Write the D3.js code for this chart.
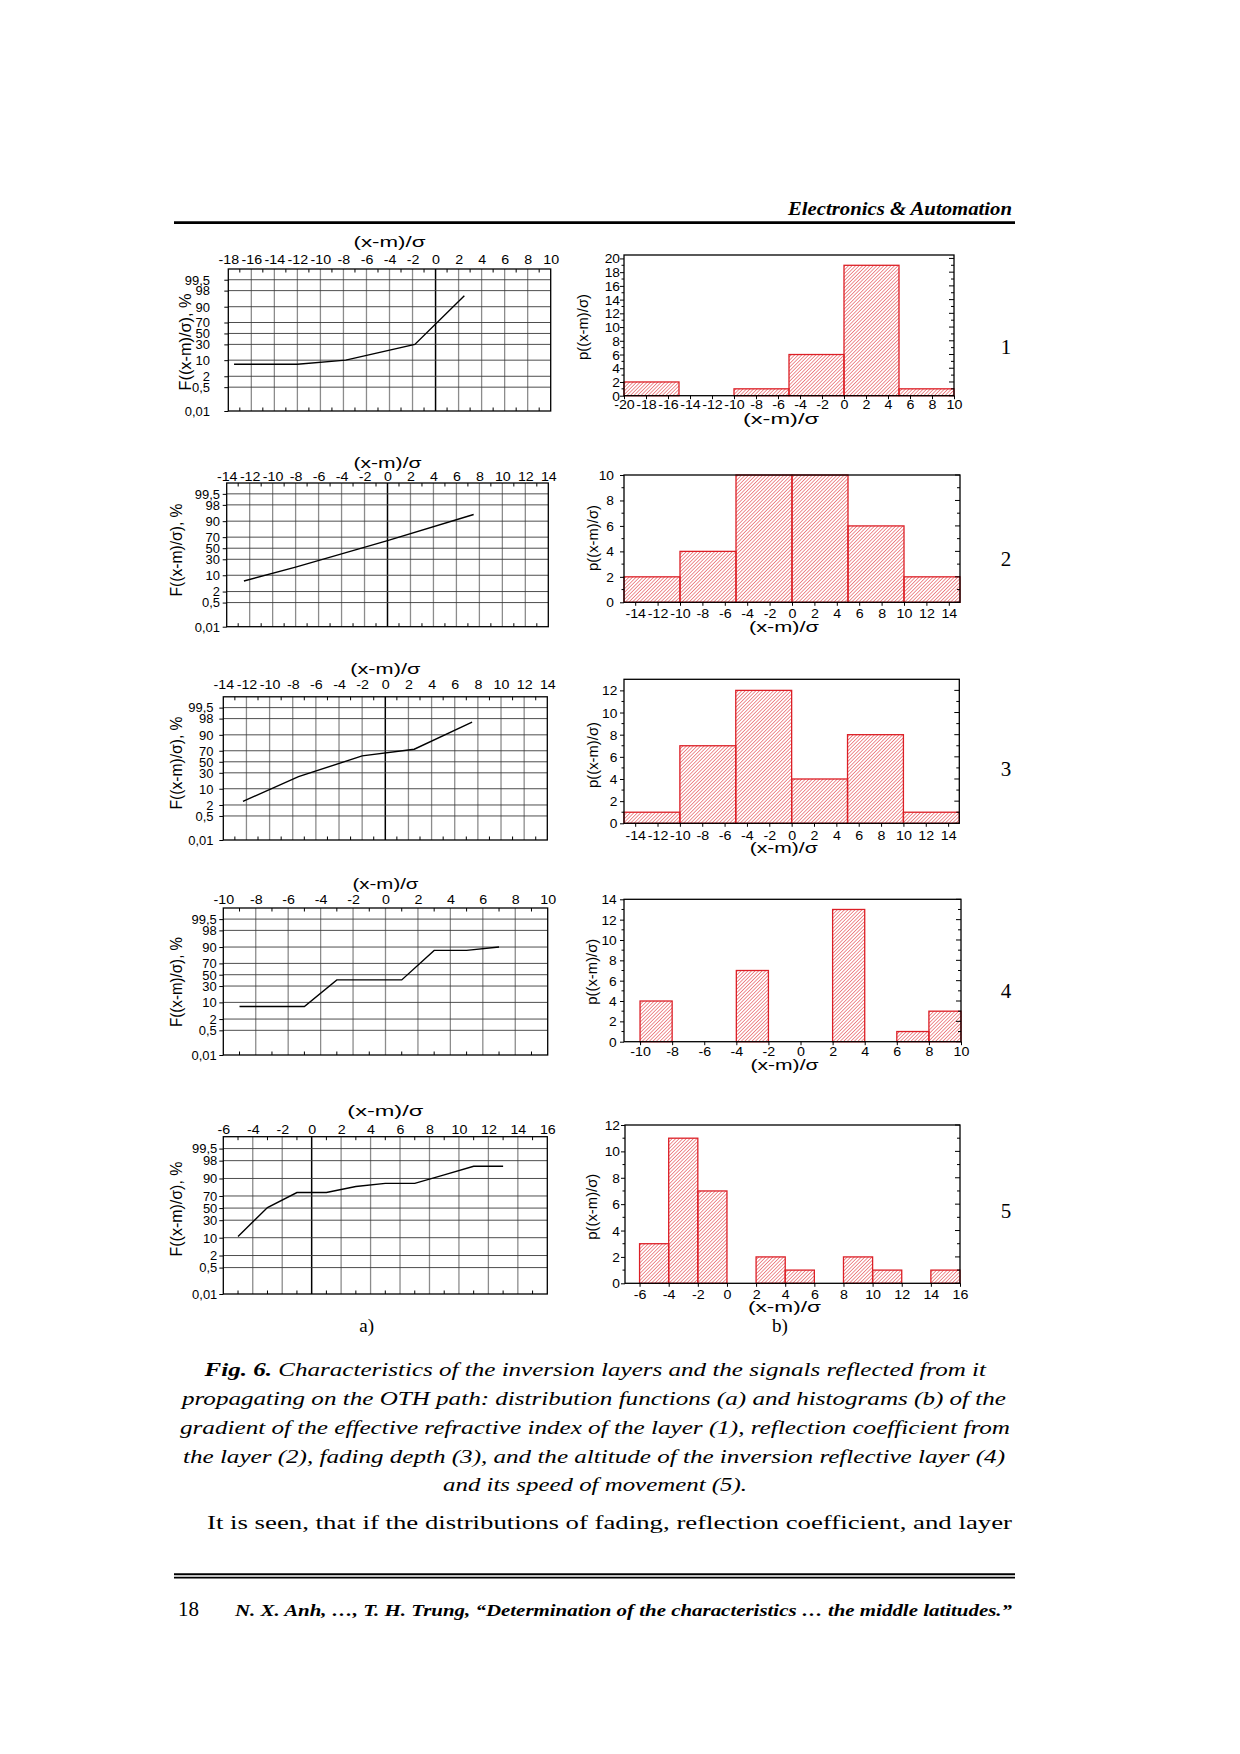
<!DOCTYPE html>
<html><head><meta charset="utf-8">
<script src="https://cdn.jsdelivr.net/npm/d3@7"></script>
<style>
html,body{margin:0;padding:0;background:#fff;}
svg{display:block;}
</style></head>
<body>
<script>
// ---------------- DATA ----------------
// distribution functions (a): x=(x-m)/sigma, F in %
const fX1 = [-17.5, -12, -7.8, -1.8, 2.5];
const fP1 = [7, 7, 10, 30, 96.5];
const fX2 = [-12.5, -8, 0, 7.5];
const fP2 = [6, 18.5, 64, 94.5];
const fX3 = [-12.3, -7.5, -2, 2.5, 7.5];
const fP3 = [3, 24, 61, 72.5, 97];
const fX4 = [-9, -5, -3, 1, 3, 5, 7];
const fP4 = [7, 7, 40.5, 40.5, 87, 87, 90];
const fX5 = [-5, -3, -1, 1, 3, 5, 7, 9, 11, 13];
const fP5 = [10.9, 51, 75, 75, 82.5, 85.8, 85.8, 92.5, 96.5, 96.5];
// probability-axis tick labels
const pTicks = [0.01, 0.5, 2, 10, 30, 50, 70, 90, 98, 99.5];
const pLabels = ["0,01", "0,5", "2", "10", "30", "50", "70", "90", "98", "99,5"];

// histograms (b): bin low edge, bin high edge, count
const h1Lo = [-20, -10, -5, 0, 5];
const h1Hi = [-15, -5, 0, 5, 10];
const h1Val = [2, 1, 6, 19, 1];
const h2Lo = [-15, -10, -5, 0, 5, 10];
const h2Hi = [-10, -5, 0, 5, 10, 15];
const h2Val = [2, 4, 10, 10, 6, 2];
const h3Lo = [-15, -10, -5, 0, 5, 10];
const h3Hi = [-10, -5, 0, 5, 10, 15];
const h3Val = [1, 7, 12, 4, 8, 1];
const h4Lo = [-10, -4, 2, 6, 8];
const h4Hi = [-8, -2, 4, 8, 10];
const h4Val = [4, 7, 13, 1, 3];
const h5Lo = [-6, -4, -2, 2, 4, 8, 10, 14];
const h5Hi = [-4, -2, 0, 4, 6, 10, 12, 16];
const h5Val = [3, 11, 7, 2, 1, 2, 1, 1];

const rowLabels = ["1", "2", "3", "4", "5"];
const captionLines = [
  "Characteristics of the inversion layers and the signals reflected from it",
  "propagating on the OTH path: distribution functions (a) and histograms (b) of the",
  "gradient of the effective refractive index of the layer (1), reflection coefficient from",
  "the layer (2), fading depth (3), and the altitude of the inversion reflective layer (4)",
  "and its speed of movement (5)."
];

// ---------------- HELPERS ----------------
function probit(p) {
  const a=[-3.969683028665376e+01,2.209460984245205e+02,-2.759285104469687e+02,1.383577518672690e+02,-3.066479806614716e+01,2.506628277459239e+00];
  const b=[-5.447609879822406e+01,1.615858368580409e+02,-1.556989798598866e+02,6.680131188771972e+01,-1.328068155288572e+01];
  const c=[-7.784894002430293e-03,-3.223964580411365e-01,-2.400758277161838e+00,-2.549732539343734e+00,4.374664141464968e+00,2.938163982698783e+00];
  const d=[7.784695709041462e-03,3.224671290700398e-01,2.445134137142996e+00,3.754408661907416e+00];
  const pl=0.02425, ph=1-pl;
  if (p < pl) { const q=Math.sqrt(-2*Math.log(p)); return (((((c[0]*q+c[1])*q+c[2])*q+c[3])*q+c[4])*q+c[5])/((((d[0]*q+d[1])*q+d[2])*q+d[3])*q+1); }
  if (p <= ph) { const q=p-0.5, r=q*q; return (((((a[0]*r+a[1])*r+a[2])*r+a[3])*r+a[4])*r+a[5])*q/(((((b[0]*r+b[1])*r+b[2])*r+b[3])*r+b[4])*r+1); }
  const q=Math.sqrt(-2*Math.log(1-p)); return -(((((c[0]*q+c[1])*q+c[2])*q+c[3])*q+c[4])*q+c[5])/((((d[0]*q+d[1])*q+d[2])*q+d[3])*q+1);
}
function stretch(sel, f) {
  sel.each(function(){
    const w = this.getComputedTextLength();
    d3.select(this).attr("textLength", w*f).attr("lengthAdjust","spacingAndGlyphs");
  });
}
function fitLen(sel, len) {
  sel.attr("textLength", len).attr("lengthAdjust","spacingAndGlyphs");
}

const W = 1240, H = 1754;
const svg = d3.select("body").append("svg").attr("width", W).attr("height", H);
svg.append("rect").attr("width", W).attr("height", H).attr("fill", "#fff");

const defs = svg.append("defs");
defs.append("pattern").attr("id","hatch").attr("patternUnits","userSpaceOnUse")
  .attr("width",2.5).attr("height",2.5).attr("patternTransform","rotate(45)")
  .append("line").attr("x1",0).attr("y1",-1).attr("x2",0).attr("y2",4)
  .attr("stroke","#df2a31").attr("stroke-width",1.05);

const SANS = "'Liberation Sans', Arial, sans-serif";
const SERIF = "'Liberation Serif', 'Times New Roman', serif";
const TICKF = 12.5, TSTR = 1.14, YTICKF = 12;

// ---------------- DISTRIBUTION PANEL ----------------
function drawDist(cfg, xs, ps) {
  const g = svg.append("g");
  const x = d3.scaleLinear().domain(cfg.xd).range([cfg.x0, cfg.x1]);
  const yz = d3.scaleLinear().domain([probit(0.0001), probit(0.999)]).range([cfg.y1, cfg.y0]);
  const y = p => yz(probit(p/100));
  const majors = d3.range(cfg.xd[0], cfg.xd[1] + 0.001, 2);
  const minors = d3.range(cfg.xd[0] + 1, cfg.xd[1], 2);
  // vertical gridlines
  g.selectAll(".vg").data(majors.filter(v => v > cfg.xd[0] && v < cfg.xd[1])).enter().append("line")
    .attr("x1", d => x(d)).attr("x2", d => x(d)).attr("y1", cfg.y0).attr("y2", cfg.y1)
    .attr("stroke", d => (d === 0 && cfg.zero) ? "#000" : "#8c8c8c")
    .attr("stroke-width", d => (d === 0 && cfg.zero) ? 1.5 : 1.3);
  // horizontal gridlines
  g.selectAll(".hg").data(pTicks.filter(p => p > 0.01)).enter().append("line")
    .attr("x1", cfg.x0).attr("x2", cfg.x1).attr("y1", d => y(d)).attr("y2", d => y(d))
    .attr("stroke", "#3a3a3a").attr("stroke-width", 0.9);
  // minor ticks top & bottom
  minors.forEach(v => {
    g.append("line").attr("x1", x(v)).attr("x2", x(v)).attr("y1", cfg.y0).attr("y2", cfg.y0 + 3.5).attr("stroke", "#000").attr("stroke-width", 1);
    g.append("line").attr("x1", x(v)).attr("x2", x(v)).attr("y1", cfg.y1).attr("y2", cfg.y1 - 3.5).attr("stroke", "#000").attr("stroke-width", 1);
  });
  // data line
  const line = d3.line().x((d, i) => x(xs[i])).y((d, i) => y(ps[i]));
  g.append("path").datum(xs).attr("d", line).attr("fill", "none").attr("stroke", "#000").attr("stroke-width", 1.4);
  // frame
  g.append("rect").attr("x", cfg.x0).attr("y", cfg.y0).attr("width", cfg.x1 - cfg.x0).attr("height", cfg.y1 - cfg.y0)
    .attr("fill", "none").attr("stroke", "#000").attr("stroke-width", 1.3);
  // top axis labels
  const ax = g.append("g").attr("transform", `translate(0,${cfg.y0})`)
    .call(d3.axisTop(x).tickValues(majors).tickSize(0).tickFormat(d => d3.format("d")(d).replace("−", "-")));
  ax.select(".domain").remove();
  ax.selectAll("text").attr("y", cfg.tickY - cfg.y0).attr("dy", "0.36em")
    .attr("font-family", SANS).attr("font-size", TICKF).attr("fill", "#000").call(stretch, TSTR);
  // left axis
  const ay = g.append("g").attr("transform", `translate(${cfg.x0},0)`)
    .call(d3.axisLeft(yz).tickValues(pTicks.map(p => probit(p/100))).tickSize(4).tickFormat((d, i) => pLabels[i]));
  ay.select(".domain").remove();
  ay.selectAll("line").attr("stroke", "#000");
  ay.selectAll("text").attr("x", cfg.ylabR - cfg.x0).attr("dy", "0.36em").attr("text-anchor", "end")
    .attr("font-family", SANS).attr("font-size", YTICKF).attr("fill", "#000").call(stretch, 1.08);
  // titles
  g.append("text").attr("x", (cfg.x0 + cfg.x1) / 2).attr("y", cfg.titleY).attr("dy", "0.3em")
    .attr("text-anchor", "middle").attr("font-family", SANS).attr("font-size", 14.5).text("(x-m)/σ").call(fitLen, cfg.tLen);
  g.append("text").attr("transform", `translate(${cfg.ytX},${cfg.ytY}) rotate(-90)`).attr("dy", "0.36em")
    .attr("text-anchor", "middle").attr("font-family", SANS).attr("font-size", 16.5).text("F((x-m)/σ), %").call(fitLen, cfg.ytLen);
}

// ---------------- HISTOGRAM PANEL ----------------
function drawHist(cfg, lo, hi, val) {
  const g = svg.append("g");
  const x = d3.scaleLinear().domain(cfg.xd).range([cfg.x0, cfg.x1]);
  const y = d3.scaleLinear().domain([0, cfg.ymax]).range([cfg.y1, cfg.y0]);
  g.selectAll(".bar").data(val).enter().append("rect")
    .attr("x", (d, i) => x(lo[i])).attr("width", (d, i) => x(hi[i]) - x(lo[i]))
    .attr("y", d => y(d)).attr("height", d => y(0) - y(d))
    .attr("fill", "url(#hatch)").attr("stroke", "#dc1f26").attr("stroke-width", 1.3);
  g.append("rect").attr("x", cfg.x0).attr("y", cfg.y0).attr("width", cfg.x1 - cfg.x0).attr("height", cfg.y1 - cfg.y0)
    .attr("fill", "none").attr("stroke", "#000").attr("stroke-width", 1.3);
  const yMaj = d3.range(0, cfg.ytop + 0.001, 2);
  const yMin = d3.range(1, cfg.ymax, 2);
  // right inward ticks
  yMaj.forEach(v => g.append("line").attr("x1", cfg.x1).attr("x2", cfg.x1 - 5).attr("y1", y(v)).attr("y2", y(v)).attr("stroke", "#000"));
  yMin.forEach(v => g.append("line").attr("x1", cfg.x1).attr("x2", cfg.x1 - 3).attr("y1", y(v)).attr("y2", y(v)).attr("stroke", "#000"));
  yMin.forEach(v => g.append("line").attr("x1", cfg.x0).attr("x2", cfg.x0 - 2.5).attr("y1", y(v)).attr("y2", y(v)).attr("stroke", "#000"));
  // bottom axis
  const ax = g.append("g").attr("transform", `translate(0,${cfg.y1})`)
    .call(d3.axisBottom(x).tickValues(cfg.xt).tickSize(3.5).tickFormat(d => d3.format("d")(d).replace("−", "-")));
  ax.select(".domain").remove();
  ax.selectAll("line").attr("stroke", "#000");
  ax.selectAll("text").attr("y", cfg.tickY - cfg.y1).attr("dy", "0.36em")
    .attr("font-family", SANS).attr("font-size", TICKF).attr("fill", "#000").call(stretch, TSTR);
  // left axis
  const ay = g.append("g").attr("transform", `translate(${cfg.x0},0)`)
    .call(d3.axisLeft(y).tickValues(yMaj).tickSize(4).tickFormat(d3.format("d")));
  ay.select(".domain").remove();
  ay.selectAll("line").attr("stroke", "#000");
  ay.selectAll("text").attr("x", cfg.ylabR - cfg.x0).attr("dy", "0.36em").attr("text-anchor", "end")
    .attr("font-family", SANS).attr("font-size", TICKF).attr("fill", "#000").call(stretch, 1.1);
  // titles
  g.append("text").attr("x", (cfg.x0 + cfg.x1) / 2 - 8).attr("y", cfg.titleY).attr("dy", "0.3em")
    .attr("text-anchor", "middle").attr("font-family", SANS).attr("font-size", 14.5).text("(x-m)/σ").call(fitLen, cfg.tLen);
  g.append("text").attr("transform", `translate(${cfg.ytX},${cfg.ytY}) rotate(-90)`).attr("dy", "0.36em")
    .attr("text-anchor", "middle").attr("font-family", SANS).attr("font-size", 15).text("p((x-m)/σ)").call(fitLen, 66);
}

// ---------------- LAYOUT ----------------
drawDist({x0:228.3,x1:550.7,y0:269,y1:411,xd:[-18,10],titleY:243,tickY:259,ylabR:210,ytX:185,ytY:342,ytLen:97,tLen:72,zero:true}, fX1, fP1);
drawDist({x0:226.7,x1:548.3,y0:483,y1:626.7,xd:[-14,14],titleY:464,tickY:476.5,ylabR:220,ytX:176,ytY:550,ytLen:93,tLen:68,zero:true}, fX2, fP2);
drawDist({x0:223.3,x1:547.3,y0:696.8,y1:840,xd:[-14,14],titleY:669.5,tickY:684.5,ylabR:213.5,ytX:176,ytY:763,ytLen:93,tLen:70,zero:true}, fX3, fP3);
drawDist({x0:223.3,x1:547.7,y0:908,y1:1055,xd:[-10,10],titleY:884.5,tickY:899.5,ylabR:216.7,ytX:176,ytY:982,ytLen:90,tLen:66,zero:false}, fX4, fP4);
drawDist({x0:223.3,x1:547.3,y0:1136.7,y1:1294,xd:[-6,16],titleY:1111.7,tickY:1129.3,ylabR:217.3,ytX:176,ytY:1209,ytLen:95,tLen:76,zero:true}, fX5, fP5);

drawHist({x0:624,x1:954,y0:255,y1:395.7,xd:[-20,10],ymax:20.5,ytop:20,xt:d3.range(-20,11,2),tickY:404.3,titleY:420,ylabR:620,ytX:583,ytY:327,tLen:76}, h1Lo, h1Hi, h1Val);
drawHist({x0:624,x1:960,y0:475,y1:602.3,xd:[-15,15],ymax:10,ytop:10,xt:d3.range(-14,15,2),tickY:613.3,titleY:628,ylabR:614,ytX:593,ytY:538,tLen:70}, h2Lo, h2Hi, h2Val);
drawHist({x0:624,x1:959.3,y0:679.3,y1:823.3,xd:[-15,15],ymax:13,ytop:12,xt:d3.range(-14,15,2),tickY:835.7,titleY:849,ylabR:617.3,ytX:593,ytY:755,tLen:68}, h3Lo, h3Hi, h3Val);
drawHist({x0:624,x1:961,y0:899.3,y1:1041.7,xd:[-11,10],ymax:14,ytop:14,xt:d3.range(-10,11,2),tickY:1051.7,titleY:1065.5,ylabR:616.7,ytX:591.7,ytY:971.7,tLen:68}, h4Lo, h4Hi, h4Val);
drawHist({x0:625,x1:960,y0:1125,y1:1283.3,xd:[-7,16],ymax:12,ytop:12,xt:d3.range(-6,17,2),tickY:1294.3,titleY:1307.5,ylabR:620,ytX:591.7,ytY:1206.7,tLen:73}, h5Lo, h5Hi, h5Val);

// ---------------- PAGE TEXT ----------------
svg.append("text").attr("x", 1012).attr("y", 214.5).attr("text-anchor", "end")
  .attr("font-family", SERIF).attr("font-size", 18).attr("font-weight", "bold").attr("font-style", "italic")
  .text("Electronics & Automation").call(fitLen, 224);
svg.append("line").attr("x1", 174).attr("x2", 1015).attr("y1", 222.6).attr("y2", 222.6).attr("stroke", "#000").attr("stroke-width", 2.7);

const rowY = [353.5, 566, 776, 997.5, 1218];
rowLabels.forEach((t, i) => svg.append("text").attr("x", 1006).attr("y", rowY[i]).attr("text-anchor", "middle")
  .attr("font-family", SERIF).attr("font-size", 21).text(t));

svg.append("text").attr("x", 366.7).attr("y", 1332).attr("text-anchor", "middle").attr("font-family", SERIF).attr("font-size", 19).text("a)");
svg.append("text").attr("x", 780).attr("y", 1332).attr("text-anchor", "middle").attr("font-family", SERIF).attr("font-size", 19).text("b)");

const capY = [1376, 1405, 1434, 1463, 1491];
const capX = [[204.6, 986], [182, 1006], [180, 1010], [183, 1005], [443, 747]];
captionLines.forEach((t, i) => {
  const tx = svg.append("text").attr("x", capX[i][0]).attr("y", capY[i])
    .attr("font-family", SERIF).attr("font-size", 19).attr("font-style", "italic");
  if (i === 0) tx.append("tspan").attr("font-weight", "bold").text("Fig. 6. ");
  tx.append("tspan").text(t);
  fitLen(tx, capX[i][1] - capX[i][0]);
});

svg.append("text").attr("x", 207).attr("y", 1529).attr("font-family", SERIF).attr("font-size", 19)
  .text("It is seen, that if the distributions of fading, reflection coefficient, and layer").call(fitLen, 805);

svg.append("line").attr("x1", 174).attr("x2", 1015).attr("y1", 1574.3).attr("y2", 1574.3).attr("stroke", "#000").attr("stroke-width", 2);
svg.append("line").attr("x1", 174).attr("x2", 1015).attr("y1", 1577.6).attr("y2", 1577.6).attr("stroke", "#000").attr("stroke-width", 1.6);
svg.append("text").attr("x", 178).attr("y", 1616).attr("font-family", SERIF).attr("font-size", 21).text("18").call(fitLen, 21);
svg.append("text").attr("x", 235).attr("y", 1616).attr("font-family", SERIF).attr("font-size", 17).attr("font-weight", "bold").attr("font-style", "italic")
  .text("N. X. Anh, …, T. H. Trung, “Determination of the characteristics … the middle latitudes.”").call(fitLen, 777);
</script>
</body></html>
